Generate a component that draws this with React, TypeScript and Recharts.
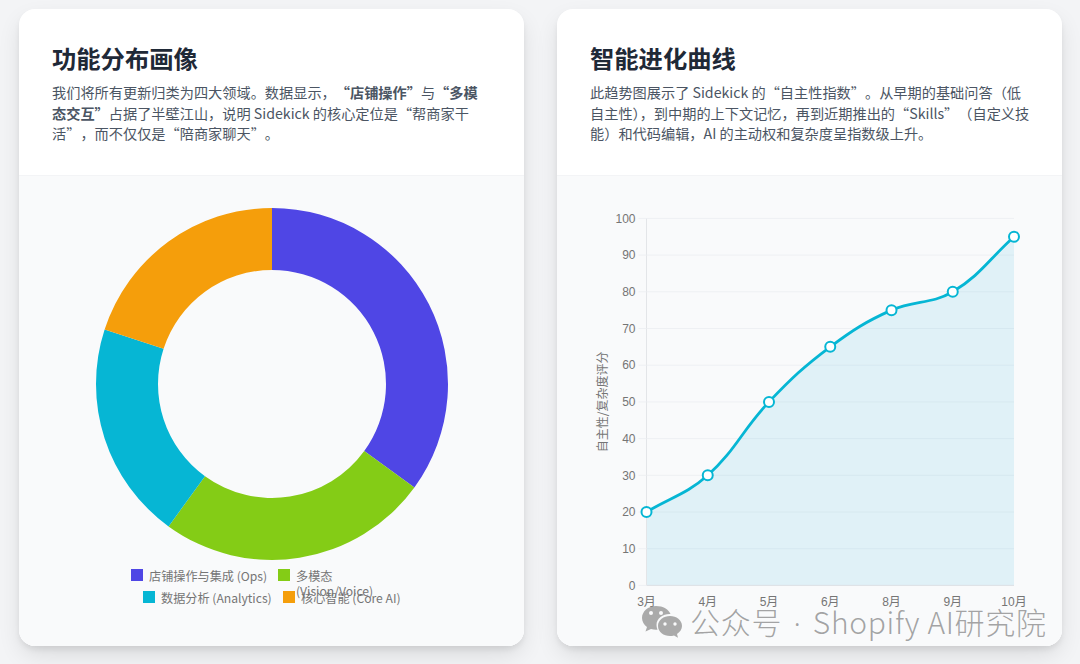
import React from "react";
import { PieChart, Pie, Legend, AreaChart, Area, XAxis, YAxis, CartesianGrid } from "recharts";

const FONT = '"Noto Sans CJK SC", "Noto Sans", sans-serif';
const AXIS_FONT = '"Liberation Sans", "Noto Sans CJK SC", sans-serif';

const shareNames = ["店铺操作与集成 (Ops)", "多模态 (Vision/Voice)", "数据分析 (Analytics)", "核心智能 (Core AI)"];
const shareValues = [35, 25, 20, 20];
const shareColors = ["#4f46e5", "#84cc16", "#06b6d4", "#f59e0b"];

const months = ["3月", "4月", "5月", "6月", "8月", "9月", "10月"];
const autonomyScores = [20, 30, 50, 65, 75, 80, 95];
const yTicks = [0, 10, 20, 30, 40, 50, 60, 70, 80, 90, 100];

const pieData = shareNames.map((name, i) => ({ name, value: shareValues[i], fill: shareColors[i] }));
const lineData = months.map((month, i) => ({ month, score: autonomyScores[i] }));

class TensionSpline {
  c: any; line: any; pts: number[][] = [];
  constructor(ctx: any) { this.c = ctx; }
  areaStart() { this.line = 0; }
  areaEnd() { this.line = NaN; }
  lineStart() { this.pts = []; }
  point(x: number, y: number) { this.pts.push([+x, +y]); }
  lineEnd() {
    const p = this.pts, t = 0.4;
    if (p.length) {
      if (this.line) this.c.lineTo(p[0][0], p[0][1]); else this.c.moveTo(p[0][0], p[0][1]);
      const cps = p.map((cur, i) => {
        const a = p[i - 1] || cur, b = p[i + 1] || cur;
        const d1 = Math.hypot(cur[0] - a[0], cur[1] - a[1]), d2 = Math.hypot(b[0] - cur[0], b[1] - cur[1]);
        const sum = d1 + d2 || 1;
        const f1 = (t * d1) / sum, f2 = (t * d2) / sum;
        return {
          prev: [cur[0] - f1 * (b[0] - a[0]), cur[1] - f1 * (b[1] - a[1])],
          next: [cur[0] + f2 * (b[0] - a[0]), cur[1] + f2 * (b[1] - a[1])],
        };
      });
      for (let i = 1; i < p.length; i++) {
        this.c.bezierCurveTo(cps[i - 1].next[0], cps[i - 1].next[1], cps[i].prev[0], cps[i].prev[1], p[i][0], p[i][1]);
      }
    }
    if (this.line === 1) this.c.closePath();
    this.line = 1 - this.line;
  }
}
const tensionCurve: any = (ctx: any) => new TensionSpline(ctx);

const legendSlots = [
  { left: 112, top: 392, width: 140 },
  { left: 259, top: 392, width: 76 },
  { left: 124, top: 414, width: 140 },
  { left: 264, top: 414, width: 125 },
];

function DonutLegend({ payload }: any) {
  return (
    <div style={{ position: "relative", width: 505, height: 0 }}>
      {(payload || []).map((item: any, i: number) => (
        <div key={item.value} style={{ position: "absolute", ...legendSlots[i], paddingLeft: 18, fontSize: 12.15, lineHeight: "15px", color: "#757575", fontFamily: FONT, boxSizing: "border-box", textAlign: "left" }}>
          <span style={{ position: "absolute", left: 0, top: 1, width: 12, height: 12, background: item.color }} />
          {item.value}
        </div>
      ))}
    </div>
  );
}

const Card = ({ left, title, lines, children }: any) => (
  <div style={{ position: "absolute", left, top: 9, width: 505, height: 637, background: "#fff", borderRadius: 16, overflow: "hidden", fontFamily: FONT, textSpacingTrim: "space-all" } as any}>
    <div style={{ position: "absolute", left: 33, top: 32, fontSize: 24.3, lineHeight: "34px", fontWeight: 700, color: "#1f2937", whiteSpace: "nowrap" }}>{title}</div>
    <div style={{ position: "absolute", left: 33, top: 73, fontSize: 14.2, lineHeight: "20.5px", color: "#4b5563", whiteSpace: "nowrap" }}>
      {lines.map((l: any, i: number) => <div key={i}>{l}</div>)}
    </div>
    <div style={{ position: "absolute", left: 0, top: 166, width: 505, height: 471, background: "#f9fafb", borderTop: "1px solid #f3f4f6", boxSizing: "border-box" }}>{children}</div>
  </div>
);

const Shadow = ({ left }: any) => (
  <div style={{ position: "absolute", left, top: 9, width: 505, height: 637, borderRadius: 16, boxShadow: "0 4px 6px -1px rgba(0,0,0,.08), 0 10px 25px -3px rgba(0,0,0,.12)" }} />
);

const Dot = (props: any) => (
  <circle key={props.index} cx={props.cx} cy={props.cy} r={5} fill="#ffffff" stroke="#06b6d4" strokeWidth={2} />
);

export default function App() {
  return (
    <div style={{ position: "absolute", left: 0, top: 0, width: 1080, height: 664, overflow: "hidden", background: "#f3f4f6" }}>
      <Shadow left={19} />
      <Shadow left={557} />
      <Card
        left={19}
        title="功能分布画像"
        lines={[
          <>我们将所有更新归类为四大领域。数据显示，<b>“店铺操作”</b>与<b>“多模</b></>,
          <><b>态交互”</b>占据了半壁江山，说明 Sidekick 的核心定位是“帮商家干</>,
          <>活”，而不仅仅是“陪商家聊天”。</>,
        ]}
      >
        <PieChart width={505} height={470} margin={{ top: 0, right: 0, bottom: 0, left: 0 }} style={{ position: "absolute", left: 0, top: 0 }}>
          <Pie data={pieData} dataKey="value" nameKey="name" cx={253} cy={208} outerRadius={176} innerRadius={114} startAngle={90} endAngle={-270} stroke="none" isAnimationActive={false} />
          <Legend content={<DonutLegend />} itemSorter={null as any} wrapperStyle={{ left: 0, top: 0, width: 505, height: 0 }} />
        </PieChart>
      </Card>
      <Card
        left={557}
        title="智能进化曲线"
        lines={[
          <>此趋势图展示了 Sidekick 的“自主性指数”。从早期的基础问答（低</>,
          <>自主性<span style={{ letterSpacing: "-0.5em" }}>）</span>，到中期的上下文记忆，再到近期推出的“Skills”（自定义技</>,
          <>能）和代码编辑，AI 的主动权和复杂度呈指数级上升。</>,
        ]}
      >
        <AreaChart width={505} height={470} data={lineData} margin={{ top: 42.4, right: 48, bottom: 30.6, left: 49.5 }} style={{ position: "absolute", left: 0, top: 0 }}>
          <CartesianGrid vertical={false} stroke="#eef0f3" strokeWidth={1} />
          <XAxis dataKey="month" scale="point" padding={{ left: 0, right: 0 }} height={30} interval={0} tickLine={false} axisLine={{ stroke: "#dfe2e6" }} tickMargin={6} tick={{ fontSize: 12, fill: "#757575", fontFamily: AXIS_FONT }} />
          <YAxis width={40} domain={[0, 100]} ticks={yTicks} interval={0} tickSize={8} tickMargin={3} tickLine={{ stroke: "#eef0f3" }} axisLine={{ stroke: "#e3e5e8" }} tick={{ fontSize: 12, fill: "#757575", fontFamily: AXIS_FONT }}
            label={{ value: "自主性/复杂度评分", angle: -90, position: "insideLeft", offset: -4, style: { fontSize: 12, fill: "#757575", fontFamily: FONT, textAnchor: "middle" } }} />
          <Area type={tensionCurve} dataKey="score" stroke="#06b6d4" strokeWidth={2.8} fill="#0aa8d8" fillOpacity={0.1} dot={<Dot />} activeDot={false} isAnimationActive={false} />
        </AreaChart>
      </Card>
      <div style={{ position: "absolute", left: 641, top: 605, display: "flex", alignItems: "center", height: 33, pointerEvents: "none" }}>
        <svg width="42" height="34" viewBox="0 0 42 34" style={{ marginRight: 7 }}>
          <path d="M15 1C7 1 1 6.500 1 13c0 3.600 2 6.800 5 9l-1.500 4.500L10 24c1.600.5 3.300.8 5 .8 .5 0 1 0 1.500-.1C15.800 23 15.500 21.500 15.500 20c0-6.800 6.500-11 13-11 .4 0 .6 0 1 .1C28 4.500 22 1 15 1z" fill="rgba(150,150,150,.8)" />
          <path d="M41 21c0-6-5.700-10-12-10s-12 4-12 10 5.700 10 12 10c1.400 0 2.700-.2 4-.6l4 2.400-1-3.800C39 27 41 24.200 41 21z" fill="rgba(150,150,150,.8)" />
          <circle cx="10" cy="8" r="2" fill="#f9fafb" /><circle cx="20" cy="8" r="2" fill="#f9fafb" />
          <circle cx="24" cy="19" r="1.700" fill="#f9fafb" /><circle cx="34" cy="19" r="1.700" fill="#f9fafb" />
        </svg>
        <span style={{ fontFamily: FONT, fontSize: 30, fontWeight: 300, lineHeight: "33px", letterSpacing: 0.7, color: "rgba(130,130,130,.72)", whiteSpace: "nowrap" }}>
          公众号 <span style={{ fontFamily: '"Noto Sans", sans-serif', margin: "0 4px" }}>·</span> Shopify AI研究院
        </span>
      </div>
    </div>
  );
}
